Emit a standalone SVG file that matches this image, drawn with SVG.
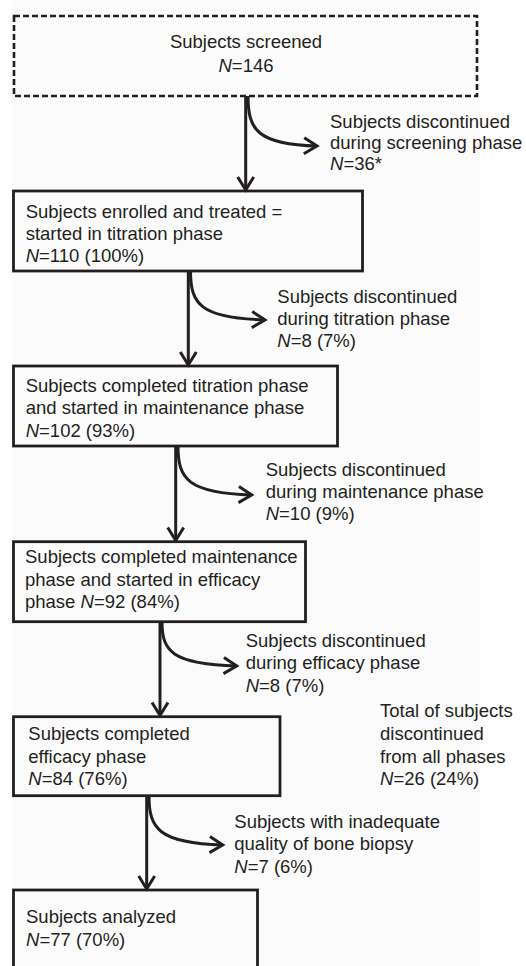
<svg xmlns="http://www.w3.org/2000/svg" width="526" height="966" viewBox="0 0 526 966">
  <style>
    .box { fill: none; stroke: #231f20; stroke-width: 2.8; }
    .dash { stroke-dasharray: 6 3; stroke-width: 2.6; }
    .t { font-family: "Liberation Sans", Arial, Helvetica, sans-serif; font-size: 18.5px; fill: #231f20; }
    .c { text-anchor: middle; }
    .i { font-style: italic; }
    .ln { fill: none; stroke: #231f20; stroke-width: 3; }
  </style>
  <defs>
    <marker id="arr" viewBox="0 0 20 20" refX="15" refY="10" markerWidth="20" markerHeight="20" markerUnits="userSpaceOnUse" orient="auto" overflow="visible">
      <path d="M2,2 L15,10 L2,18" fill="none" stroke="#231f20" stroke-width="3" stroke-linejoin="miter"/>
    </marker>
  </defs>
  <rect x="0" y="0" width="526" height="966" fill="#ffffff"/>
  <rect x="12" y="0" width="468" height="966" fill="#fbfbfb"/>

  <g id="screened">
    <rect class="box dash" x="14" y="16" width="463" height="80"/>
    <text class="t c" x="246" y="48">Subjects screened</text>
    <text class="t c" x="246" y="71.5"><tspan class="i">N</tspan>=146</text>
  </g>

  <g id="disc-screening">
    <text class="t" x="330" y="127.5">Subjects discontinued</text>
    <text class="t" x="330" y="148.5">during screening phase</text>
    <text class="t" x="330" y="170"><tspan class="i">N</tspan>=36*</text>
  </g>

  <g id="enrolled">
    <rect class="box" x="13.5" y="191" width="349" height="80"/>
    <text class="t" x="25.7" y="217.5">Subjects enrolled and treated =</text>
    <text class="t" x="25.7" y="240">started in titration phase</text>
    <text class="t" x="25.7" y="262.3"><tspan class="i">N</tspan>=110 (100%)</text>
  </g>

  <g id="disc-titration">
    <text class="t" x="277.3" y="302.7">Subjects discontinued</text>
    <text class="t" x="277.3" y="324.5">during titration phase</text>
    <text class="t" x="277.3" y="347"><tspan class="i">N</tspan>=8 (7%)</text>
  </g>

  <g id="titration-completed">
    <rect class="box" x="13.5" y="366" width="324" height="80"/>
    <text class="t" x="25.7" y="391.7">Subjects completed titration phase</text>
    <text class="t" x="25.7" y="414.3">and started in maintenance phase</text>
    <text class="t" x="25.7" y="436.7"><tspan class="i">N</tspan>=102 (93%)</text>
  </g>

  <g id="disc-maintenance">
    <text class="t" x="265.7" y="475.7">Subjects discontinued</text>
    <text class="t" x="265.7" y="497.7">during maintenance phase</text>
    <text class="t" x="265.7" y="519.5"><tspan class="i">N</tspan>=10 (9%)</text>
  </g>

  <g id="maintenance-completed">
    <rect class="box" x="13.5" y="541.7" width="292" height="80"/>
    <text class="t" x="25" y="563.3">Subjects completed maintenance</text>
    <text class="t" x="25" y="585.7">phase and started in efficacy</text>
    <text class="t" x="25" y="608.3">phase <tspan class="i">N</tspan>=92 (84%)</text>
  </g>

  <g id="disc-efficacy">
    <text class="t" x="245.7" y="646.7">Subjects discontinued</text>
    <text class="t" x="245.7" y="669.3">during efficacy phase</text>
    <text class="t" x="245.7" y="691.7"><tspan class="i">N</tspan>=8 (7%)</text>
  </g>

  <g id="efficacy-completed">
    <rect class="box" x="13.5" y="716.7" width="266.5" height="79"/>
    <text class="t" x="28.3" y="740">Subjects completed</text>
    <text class="t" x="28.3" y="762.5">efficacy phase</text>
    <text class="t" x="28.3" y="785"><tspan class="i">N</tspan>=84 (76%)</text>
  </g>

  <g id="total-discontinued">
    <text class="t" x="380" y="716.7">Total of subjects</text>
    <text class="t" x="380" y="740">discontinued</text>
    <text class="t" x="380" y="762.5">from all phases</text>
    <text class="t" x="380" y="785"><tspan class="i">N</tspan>=26 (24%)</text>
  </g>

  <g id="inadequate-biopsy">
    <text class="t" x="234.3" y="828.3">Subjects with inadequate</text>
    <text class="t" x="234.3" y="850">quality of bone biopsy</text>
    <text class="t" x="234.3" y="872.5"><tspan class="i">N</tspan>=7 (6%)</text>
  </g>

  <g id="analyzed">
    <rect class="box" x="13.5" y="890" width="244" height="100"/>
    <text class="t" x="26" y="922.7">Subjects analyzed</text>
    <text class="t" x="26" y="946"><tspan class="i">N</tspan>=77 (70%)</text>
  </g>

  <g id="connectors">
    <line class="ln" x1="245.7" y1="96" x2="245.7" y2="190" marker-end="url(#arr)"/>
    <path class="ln" d="M248,96 C248,129.5 257,144.5 317,146" marker-end="url(#arr)"/>

    <line class="ln" x1="188.3" y1="271" x2="188.3" y2="365" marker-end="url(#arr)"/>
    <path class="ln" d="M190.5,271 C190.5,304 200,318 265,320" marker-end="url(#arr)"/>

    <line class="ln" x1="175.7" y1="446" x2="175.7" y2="540.5" marker-end="url(#arr)"/>
    <path class="ln" d="M178,446 C178,479 187.6,493 251.7,495" marker-end="url(#arr)"/>

    <line class="ln" x1="160" y1="621.7" x2="160" y2="715.5" marker-end="url(#arr)"/>
    <path class="ln" d="M162,621.7 C162,651.4 171.7,664 236.7,666" marker-end="url(#arr)"/>

    <line class="ln" x1="146.7" y1="795.7" x2="146.7" y2="889" marker-end="url(#arr)"/>
    <path class="ln" d="M149,795.7 C149,828.7 158.6,843 222.7,845" marker-end="url(#arr)"/>
  </g>
</svg>
